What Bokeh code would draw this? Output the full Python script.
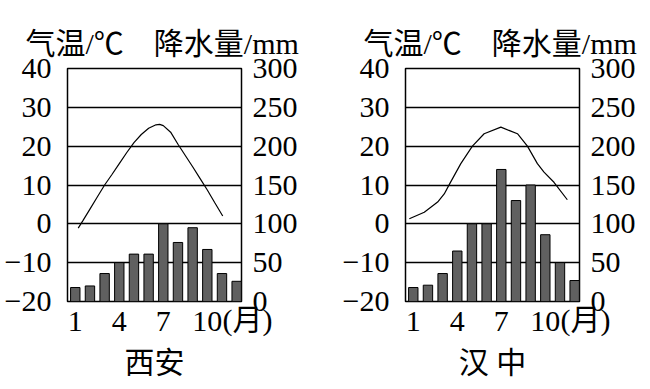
from bokeh.plotting import figure
from bokeh.models import Range1d, LinearAxis, FixedTicker, Title
from bokeh.layouts import row
from bokeh.embed import file_html
from bokeh.resources import INLINE

# ---- data ----
months = list(range(1, 13))
month_ticks = [1, 4, 7, 10]
temp_ticks = [-20, -10, 0, 10, 20, 30, 40]
precip_ticks = [0, 50, 100, 150, 200, 250, 300]

xian_precip = [18, 20, 36, 50, 61, 61, 100, 76, 95, 67, 36, 26]
xian_temp_x = [1.2, 1.5, 2, 2.5, 3, 3.5, 4, 4.5, 5, 5.5, 6, 6.5, 6.75, 7, 7.5,
               8, 8.5, 9, 9.5, 10, 10.5, 11.05]
xian_temp = [-1.1, 0.7, 3.8, 6.9, 10, 12.7, 15.5, 18.3, 20.9, 23.0, 24.6, 25.5,
             25.6, 25.3, 23.6, 20.5, 17.6, 14.7, 11.7, 8.7, 5.5, 2.0]

hanzhong_precip = [18, 21, 36, 65, 100, 100, 170, 130, 150, 86, 50, 27]
hanzhong_temp_x = [0.73, 1.75, 2.66, 3.11, 3.45, 4.24, 5.03, 5.83, 6.97, 8.1,
                   8.78, 9.46, 9.91, 10.59, 11.5]
hanzhong_temp = [1.3, 3.0, 5.6, 7.7, 10.1, 15.5, 20, 23.2, 24.9, 23.2, 20,
                 15.5, 13.3, 10.7, 6.2]

title_text = "气温/℃　降水量/mm"
month_unit = "(月)"

FONT = "'Liberation Serif', 'Noto Sans CJK SC'"
FS = "30px"
X0, X1 = 0.47, 12.33


def panel(name, precip, tx, ty, bl, br, name_dx):
    p = figure(output_backend="svg", toolbar_location=None,
               x_range=Range1d(X0, X1), y_range=Range1d(-20, 40),
               frame_width=174, frame_height=233,
               min_border_left=bl, min_border_right=br,
               min_border_top=68, min_border_bottom=5)
    p.extra_y_ranges = {"precip": Range1d(0, 300)}
    p.background_fill_color = "white"
    p.border_fill_color = "white"
    p.outline_line_color = "black"
    p.outline_line_width = 1.5

    p.xgrid.visible = False
    p.ygrid.ticker = FixedTicker(ticks=temp_ticks)
    p.ygrid.grid_line_color = "black"
    p.ygrid.grid_line_width = 1.3

    p.vbar(x=months, top=precip, bottom=0, width=0.64, y_range_name="precip",
           fill_color="#606060", line_color="black", line_width=1)
    p.line(tx, ty, line_color="black", line_width=1.2)

    ra = LinearAxis(y_range_name="precip", ticker=FixedTicker(ticks=precip_ticks))
    p.add_layout(ra, "right")

    p.yaxis[0].ticker = FixedTicker(ticks=temp_ticks)
    p.yaxis[0].major_label_overrides = {-20: "−20", -10: "−10"}
    p.xaxis.ticker = FixedTicker(ticks=month_ticks)

    for ax in p.xaxis + p.yaxis:
        ax.axis_line_color = None
        ax.major_tick_line_color = None
        ax.minor_tick_line_color = None
        ax.major_label_text_font = FONT
        ax.major_label_text_font_size = FS
        ax.major_label_text_color = "black"
    p.yaxis[0].major_label_standoff = 10
    ra.major_label_standoff = 5
    p.xaxis.major_label_standoff = 4

    p.add_layout(Title(text=title_text, align="left", offset=-42, standoff=18,
                       text_font=FONT, text_font_size=FS, text_font_style="normal",
                       text_color="black"), "above")
    p.add_layout(Title(text=month_unit, align="left", offset=155, standoff=-62,
                       vertical_align="top",
                       text_font=FONT, text_font_size=FS, text_font_style="normal",
                       text_color="black"), "below")
    p.add_layout(Title(text=name, align="center", offset=name_dx, standoff=21,
                       text_font=FONT, text_font_size=FS, text_font_style="normal",
                       text_color="black"), "below")
    return p


p1 = panel("西安", xian_precip, xian_temp_x, xian_temp, 67, 84, -5)
p2 = panel("汉 中", hanzhong_precip, hanzhong_temp_x, hanzhong_temp, 80, 62, -6)

layout = row(p1, p2)
open("out.html", "w").write(file_html(layout, INLINE))
